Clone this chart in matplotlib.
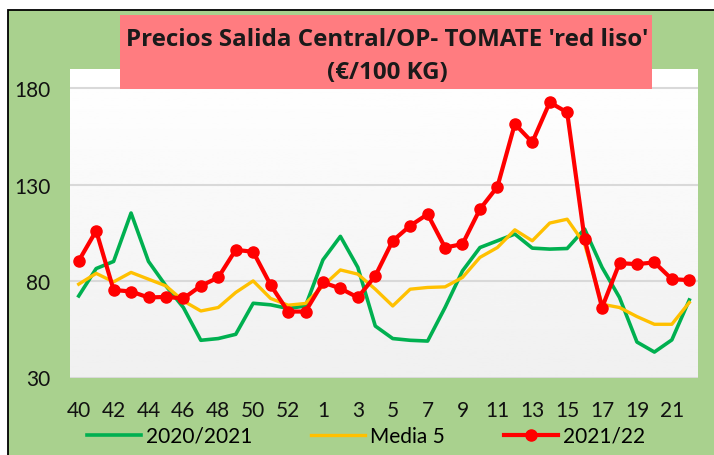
import numpy as np
import matplotlib
matplotlib.use("Agg")
import matplotlib.pyplot as plt
from matplotlib.patches import Rectangle

# Weeks of the campaign (40..53 then 1..22)
weeks = list(range(40, 54)) + list(range(1, 23))

# Prices (EUR/100 kg)
campaign_2020_21 = [72.3, 86.5, 90.2, 115.3, 90.2, 77.5, 66.3, 49.3, 50.2, 52.4,
                    68.5, 67.7, 65.8, 67.1, 91.0, 103.2, 87.1, 56.7, 50.2, 49.3,
                    48.9, 66.3, 85.3, 97.4, 100.9, 104.4, 97.1, 96.6, 96.9, 107.0,
                    87.1, 71.5, 48.4, 43.2, 49.5, 70.2]
media_5 = [78.4, 84.0, 79.6, 84.5, 81.0, 77.5, 69.7, 64.5, 66.3, 74.1,
           80.1, 71.0, 67.5, 68.4, 77.5, 85.8, 83.6, 75.8, 67.1, 75.8,
           76.7, 77.0, 81.9, 92.3, 97.4, 106.6, 100.9, 110.1, 112.1, 99.2,
           68.0, 66.3, 61.6, 57.6, 57.6, 68.9]
campaign_2021_22 = [90.5, 106.1, 75.4, 74.6, 71.5, 71.8, 71.0, 77.5, 81.9, 96.2,
                    95.2, 78.0, 64.2, 64.2, 79.3, 76.2, 71.5, 82.7, 100.9, 108.7,
                    114.7, 97.4, 99.2, 117.3, 128.9, 161.5, 152.0, 172.7, 167.5, 101.8,
                    66.3, 89.3, 88.8, 89.7, 81.0, 80.5]

y_ticks = [30, 80, 130, 180]
title_lines = ["Precios Salida Central/OP- TOMATE 'red liso'", "(€/100 KG)"]

plt.rcParams["font.family"] = ["Lato", "DejaVu Sans"]

fig = plt.figure(figsize=(7.14, 4.56), dpi=100)
fig.patch.set_facecolor("white")

# green chart background with black border on top/left
W, H = 714.0, 456.0
fig.patches.append(Rectangle((8 / W, -0.01), 1.0, 1 - 10.5 / H + 0.01,
                             transform=fig.transFigure, facecolor="#A9D18E",
                             edgecolor="black", linewidth=1.3, zorder=-10))

ax = fig.add_axes([70 / W, 1 - 378.5 / H, 628 / W, 308.5 / H])
ax.set_facecolor("none")

# soft vertical gradient in plot area
grad = np.linspace(0.94, 1.0, 256).reshape(-1, 1)
ax.imshow(grad, cmap="gray", vmin=0, vmax=1, aspect="auto", origin="lower",
          extent=[0, 1, 0, 1], transform=ax.transAxes, zorder=0)

x = np.arange(len(weeks))
ax.plot(x, campaign_2020_21, color="#00B050", lw=2.6, label="2020/2021", zorder=3)
ax.plot(x, media_5, color="#FFC000", lw=2.4, label="Media 5", zorder=3)
ax.plot(x, campaign_2021_22, color="#FF0000", lw=3.0, marker="o", ms=8,
        label="2021/22", zorder=4)

ax.set_xlim(-0.5, len(weeks) - 0.5)
ax.set_ylim(30, 190)
ax.set_yticks(y_ticks)
ax.set_xticks(x[::2])
ax.set_xticklabels([str(w) for w in weeks[::2]])
ax.tick_params(axis="both", length=0, labelsize=15, colors="#111111")
ax.tick_params(axis="x", pad=16)
ax.tick_params(axis="y", pad=14)
for s in ax.spines.values():
    s.set_visible(False)
ax.grid(axis="y", color="#D9D9D9", lw=1.5, zorder=1)
ax.set_axisbelow(True)

fig.legend(loc="center", bbox_to_anchor=(366 / W, 1 - 437 / H), ncol=3,
           frameon=False, fontsize=15, handlelength=2.6, handletextpad=0.25,
           columnspacing=2.8)

# title box
fig.patches.append(Rectangle((120 / W, 1 - 90 / H), 532 / W, 74 / H,
                             transform=fig.transFigure, facecolor="#FF7C80",
                             edgecolor="none", zorder=5))
for line, base in zip(title_lines, [46, 78.5]):
    fig.text(387 / W, 1 - base / H, line, ha="center", va="baseline",
             fontsize=17.4, fontweight="bold", family=["Open Sans", "DejaVu Sans"],
             color="#1a1a1a", zorder=6)

fig.savefig("out.png", dpi=100, facecolor=fig.get_facecolor())
